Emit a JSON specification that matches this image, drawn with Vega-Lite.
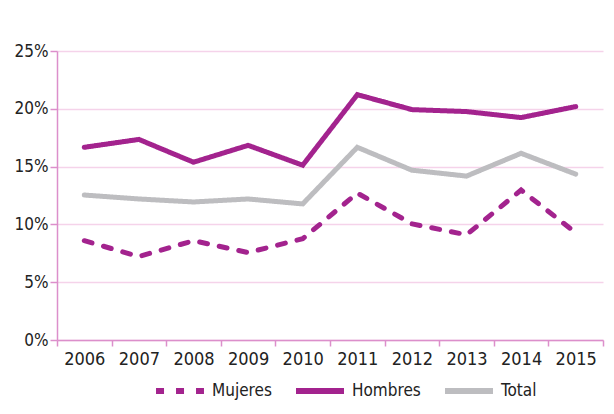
{
  "$schema": "https://vega.github.io/schema/vega-lite/v6.json",
  "width": 614,
  "height": 414,
  "autosize": {"type": "fit", "contains": "padding"},
  "padding": {"left": 14, "top": 42, "right": 10, "bottom": 46},
  "background": "white",
  "data": {
    "values": [
      {"year": "2006", "serie": "Hombres", "v": 0.1667},
      {"year": "2007", "serie": "Hombres", "v": 0.1735},
      {"year": "2008", "serie": "Hombres", "v": 0.1538},
      {"year": "2009", "serie": "Hombres", "v": 0.1684},
      {"year": "2010", "serie": "Hombres", "v": 0.1512},
      {"year": "2011", "serie": "Hombres", "v": 0.2122},
      {"year": "2012", "serie": "Hombres", "v": 0.1993},
      {"year": "2013", "serie": "Hombres", "v": 0.1976},
      {"year": "2014", "serie": "Hombres", "v": 0.1924},
      {"year": "2015", "serie": "Hombres", "v": 0.2019},
      {"year": "2006", "serie": "Total", "v": 0.1254},
      {"year": "2007", "serie": "Total", "v": 0.122},
      {"year": "2008", "serie": "Total", "v": 0.1194},
      {"year": "2009", "serie": "Total", "v": 0.122},
      {"year": "2010", "serie": "Total", "v": 0.1177},
      {"year": "2011", "serie": "Total", "v": 0.1667},
      {"year": "2012", "serie": "Total", "v": 0.1469},
      {"year": "2013", "serie": "Total", "v": 0.1418},
      {"year": "2014", "serie": "Total", "v": 0.1615},
      {"year": "2015", "serie": "Total", "v": 0.1435},
      {"year": "2006", "serie": "Mujeres", "v": 0.0859},
      {"year": "2007", "serie": "Mujeres", "v": 0.0722},
      {"year": "2008", "serie": "Mujeres", "v": 0.0859},
      {"year": "2009", "serie": "Mujeres", "v": 0.0756},
      {"year": "2010", "serie": "Mujeres", "v": 0.0876},
      {"year": "2011", "serie": "Mujeres", "v": 0.1271},
      {"year": "2012", "serie": "Mujeres", "v": 0.1005},
      {"year": "2013", "serie": "Mujeres", "v": 0.091},
      {"year": "2014", "serie": "Mujeres", "v": 0.1297},
      {"year": "2015", "serie": "Mujeres", "v": 0.0928}
    ]
  },
  "mark": {"type": "line", "strokeWidth": 5, "strokeCap": "round", "strokeJoin": "miter"},
  "encoding": {
    "x": {
      "field": "year", "type": "ordinal", "bandPosition": 0.5,
      "scale": {"type": "band", "paddingInner": 0, "paddingOuter": 0},
      "axis": {
        "title": null, "labelAngle": 0, "tickBand": "extent", "grid": false,
        "domainColor": "#dc8fcb", "tickColor": "#dc8fcb", "tickSize": 6, "domainWidth": 1.5, "tickWidth": 1.5,
        "labelFont": "DejaVu Sans Condensed", "labelFontSize": 18, "labelColor": "#222222", "labelPadding": 4
      }
    },
    "y": {
      "field": "v", "type": "quantitative",
      "scale": {"domain": [0, 0.25]},
      "axis": {
        "title": null, "format": ".0%", "values": [0, 0.05, 0.1, 0.15, 0.2, 0.25],
        "gridColor": "#f5d3ea", "gridWidth": 1.5,
        "domainColor": "#dc8fcb", "tickColor": "#dc8fcb", "tickSize": 7, "domainWidth": 1.5, "tickWidth": 1.5,
        "labelFont": "DejaVu Sans Condensed", "labelFontSize": 17, "labelColor": "#222222", "labelPadding": 2
      }
    },
    "color": {
      "field": "serie", "type": "nominal",
      "scale": {"domain": ["Mujeres", "Hombres", "Total"], "range": ["#a3238e", "#a3238e", "#bdbdc0"]},
      "legend": {
        "title": null, "orient": "none", "direction": "horizontal", "legendX": 96, "legendY": 313,
        "symbolType": "stroke", "symbolSize": 2300, "symbolStrokeWidth": 6,
        "labelFont": "DejaVu Sans Condensed", "labelFontSize": 17, "labelColor": "#222222",
        "columnPadding": 12, "labelOffset": 5
      }
    },
    "strokeDash": {
      "field": "serie", "type": "nominal",
      "scale": {"domain": ["Mujeres", "Hombres", "Total"], "range": [[8, 12], [1, 0], [1, 0]]},
      "legend": null
    }
  },
  "config": {"view": {"stroke": null}}
}
